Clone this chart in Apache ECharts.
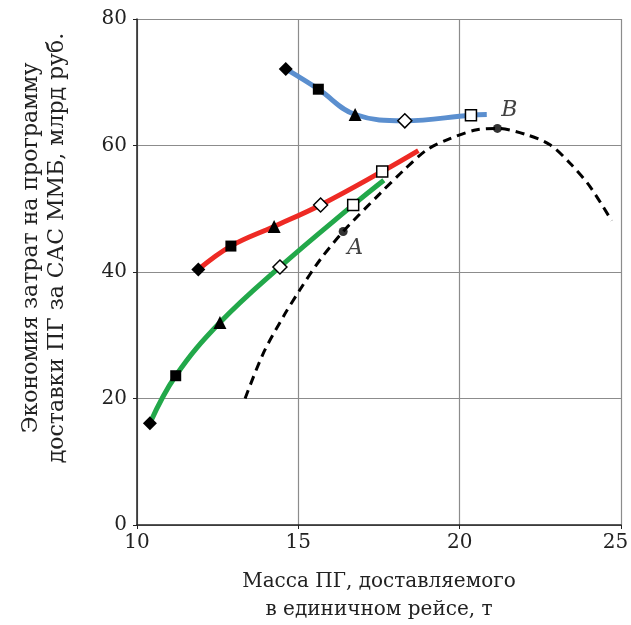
<!DOCTYPE html>
<html>
<head>
<meta charset="utf-8">
<script src="https://cdn.jsdelivr.net/npm/echarts@6/dist/echarts.min.js"></script>
<style>
    html, body { margin: 0; padding: 0; background: #fff; }
    #chart { width: 631px; height: 625px; }
</style>
</head>
<body>
<div id="chart"></div>
<script>
// marker order along every coloured curve
var markerShapes = ['diamond', 'rect', 'triangle', 'diamond', 'rect'];
var markerFilled = [true, true, true, false, false];

// blue curve (last point is the line end, no marker)
var blueX = [14.61, 15.62, 16.76, 18.30, 20.35, 20.84];
var blueY = [72.1, 68.9, 64.9, 63.9, 64.8, 64.9];
// red curve
var redX = [11.90, 12.91, 14.25, 15.69, 17.60, 18.72];
var redY = [40.4, 44.1, 47.2, 50.6, 55.9, 59.2];
// green curve
var greenX = [10.40, 11.20, 12.57, 14.43, 16.70, 17.65];
var greenY = [16.1, 23.6, 32.0, 40.8, 50.6, 54.5];
// dashed curve
var dashX = [13.35, 13.91, 14.53, 15.05, 15.67, 16.39, 17.53, 18.25, 18.98, 19.70, 20.53, 21.17, 22.08, 22.80, 23.42, 24.04, 24.71];
var dashY = [20.0, 27.1, 32.9, 37.2, 41.9, 46.4, 52.4, 56.0, 59.3, 61.1, 62.5, 62.7, 61.7, 60.1, 57.2, 53.5, 48.1];
// labelled points
var pointA = [16.39, 46.4];
var pointB = [21.17, 62.7];

var xTicks = [10, 15, 20, 25];
var yTicks = [0, 20, 40, 60, 80];

var serif = '"DejaVu Serif", "Liberation Serif", serif';

function curveData(xs, ys) {
    var out = [];
    for (var i = 0; i < xs.length; i++) {
        if (i < markerShapes.length) {
            var filled = markerFilled[i];
            var shape = markerShapes[i];
            out.push({
                value: [xs[i], ys[i]],
                symbol: shape,
                symbolSize: shape == 'diamond' ? 14 : (shape == 'triangle' ? 13 : 11),
                itemStyle: {
                    color: filled ? '#000' : '#fff',
                    borderColor: '#000',
                    borderWidth: filled ? 0 : 1.5
                }
            });
        } else {
            out.push({ value: [xs[i], ys[i]], symbol: 'none' });
        }
    }
    return out;
}

function pairs(xs, ys) {
    var out = [];
    for (var i = 0; i < xs.length; i++) out.push([xs[i], ys[i]]);
    return out;
}

function colouredLine(name, color, xs, ys) {
    return {
        name: name,
        type: 'line',
        smooth: 0.4,
        showSymbol: true,
        z: 3,
        lineStyle: { color: color, width: 5 },
        data: curveData(xs, ys)
    };
}

var chart = echarts.init(document.getElementById('chart'));
var option = {
    animation: false,
    grid: { left: 137, right: 10, top: 19, bottom: 100, outerBoundsMode: 'none' },
    xAxis: {
        type: 'value',
        min: xTicks[0],
        max: xTicks[xTicks.length - 1],
        interval: 5,
        axisLine: { lineStyle: { color: '#222', width: 1.5 } },
        axisTick: { show: true, length: 4, lineStyle: { color: '#222' } },
        axisLabel: {
            color: '#222', fontFamily: serif, fontSize: 20, margin: 8,
            // last label sits a little left so it stays on the page
            formatter: function (v) {
                return v == xTicks[xTicks.length - 1] ? '{last|' + v + '}' : '' + v;
            },
            rich: { last: { fontFamily: serif, fontSize: 20, color: '#222', padding: [0, 11, 0, 0] } }
        },
        splitLine: { lineStyle: { color: '#8c8c8c', width: 1.2 } },
        name: 'Масса ПГ, доставляемого\nв единичном рейсе, т',
        nameLocation: 'middle',
        nameGap: 43,
        nameTextStyle: { color: '#222', fontFamily: serif, fontSize: 20, lineHeight: 28, verticalAlign: 'top' }
    },
    yAxis: {
        type: 'value',
        min: yTicks[0],
        max: yTicks[yTicks.length - 1],
        interval: 20,
        axisLine: { show: true, lineStyle: { color: '#222', width: 1.5 } },
        axisTick: { show: true, length: 4, lineStyle: { color: '#222' } },
        axisLabel: { color: '#222', fontFamily: serif, fontSize: 20, margin: 10 },
        splitLine: { lineStyle: { color: '#8c8c8c', width: 1.2 } }
    },
    graphic: [{
        type: 'text',
        x: 44,
        y: 248,
        rotation: Math.PI / 2,
        style: {
            text: 'Экономия затрат на программу\nдоставки ПГ за САС ММБ, млрд руб.',
            font: '22px ' + serif,
            fill: '#222',
            align: 'center',
            verticalAlign: 'middle',
            lineHeight: 26
        }
    }],
    series: [
        {
            name: 'dashed',
            type: 'line',
            smooth: 0.3,
            showSymbol: false,
            z: 2,
            lineStyle: { color: '#000', width: 3, type: [9, 6] },
            data: pairs(dashX, dashY)
        },
        colouredLine('green', '#22a84a', greenX, greenY),
        colouredLine('red', '#ee2a24', redX, redY),
        colouredLine('blue', '#5b8fcf', blueX, blueY),
        {
            name: 'points',
            type: 'scatter',
            symbol: 'circle',
            symbolSize: 9,
            z: 4,
            itemStyle: { color: '#000' },
            label: {
                show: true,
                color: '#111',
                fontFamily: serif,
                fontStyle: 'italic',
                fontSize: 22
            },
            data: [
                { value: pointA, label: { formatter: 'A', position: 'bottom', offset: [12, -4] } },
                { value: pointB, label: { formatter: 'B', position: 'top', offset: [12, 2] } }
            ]
        }
    ]
};
chart.setOption(option);
</script>
</body>
</html>
